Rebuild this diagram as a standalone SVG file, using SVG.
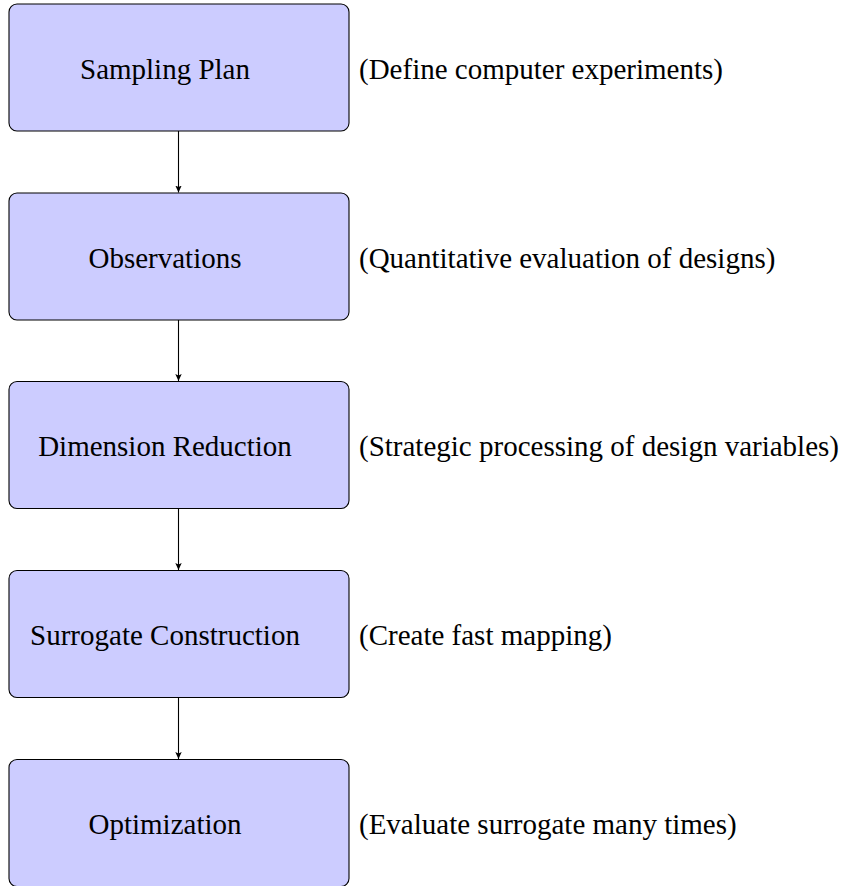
<svg xmlns="http://www.w3.org/2000/svg" width="841" height="886" viewBox="0 0 841 886">
<style>
.box{fill:#ccccff;stroke:#000;stroke-width:1.1}
.t{font-family:"Liberation Serif","Times New Roman",serif;font-size:29px;fill:#000;dominant-baseline:central}
.lbl{text-anchor:middle}
.edge{stroke:#000;stroke-width:1.1;fill:none;marker-end:url(#ah)}
</style>
<defs>
<marker id="ah" markerWidth="8" markerHeight="8" refX="7" refY="4" orient="auto" markerUnits="userSpaceOnUse">
<path d="M0,0.8 L7,4 L0,7.2 L1.6,4 Z" fill="#000"/>
</marker>
</defs>
<rect width="841" height="886" fill="#fff"/>
<g id="n1"><rect class="box" x="9" y="4" width="340" height="127" rx="8"/><text class="t lbl" x="165" y="69">Sampling Plan</text></g>
<g id="n2"><rect class="box" x="9" y="193" width="340" height="127" rx="8"/><text class="t lbl" x="165" y="258">Observations</text></g>
<g id="n3"><rect class="box" x="9" y="381.5" width="340" height="127" rx="8"/><text class="t lbl" x="165" y="446">Dimension Reduction</text></g>
<g id="n4"><rect class="box" x="9" y="570.5" width="340" height="127" rx="8"/><text class="t lbl" x="165" y="635">Surrogate Construction</text></g>
<g id="n5"><rect class="box" x="9" y="759.5" width="340" height="127" rx="8"/><text class="t lbl" x="165" y="824">Optimization</text></g>
<g id="notes">
<text class="t" x="359" y="69">(Define computer experiments)</text>
<text class="t" x="359" y="258">(Quantitative evaluation of designs)</text>
<text class="t" x="359" y="446">(Strategic processing of design variables)</text>
<text class="t" x="359" y="635">(Create fast mapping)</text>
<text class="t" x="359" y="824">(Evaluate surrogate many times)</text>
</g>
<g id="edges">
<line class="edge" x1="178.5" y1="131" x2="178.5" y2="192.5"/>
<line class="edge" x1="178.5" y1="320" x2="178.5" y2="381"/>
<line class="edge" x1="178.5" y1="508.5" x2="178.5" y2="570"/>
<line class="edge" x1="178.5" y1="697.5" x2="178.5" y2="759"/>
</g>
</svg>
